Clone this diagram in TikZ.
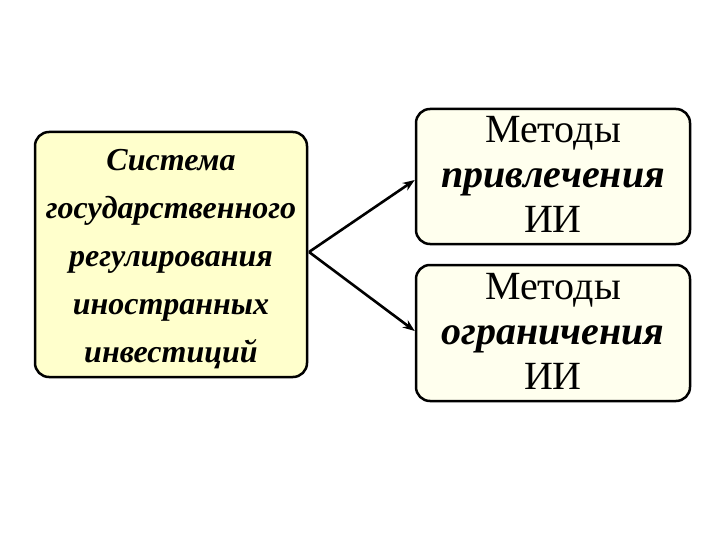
\documentclass[tikz,border=0pt]{standalone}
\usepackage{fontspec}
\setmainfont{Liberation Serif}
\usetikzlibrary{arrows.meta}
\definecolor{leftfill}{HTML}{FFFFCC}
\definecolor{rightfill}{HTML}{FFFFEE}
\tikzset{
  box/.style={draw=black, line width=2.5pt, rounded corners=14pt, inner sep=0pt},
  conn/.style={line width=2.6pt, -{Stealth[length=12pt,width=9pt]}}
}
\begin{document}
\begin{tikzpicture}[x=1pt,y=-1pt]
\useasboundingbox (0,0) rectangle (720,540);
\node[box, fill=leftfill, minimum width=272pt, minimum height=245pt] (sys) at (171,254.5) {};
\node[align=center, font=\fontsize{32}{48}\selectfont\bfseries\itshape] (systxt) at (171,259)
 {Система\\государственного\\регулирования\\иностранных\\инвестиций};
\node[box, fill=rightfill, minimum width=274pt, minimum height=135pt] (m1) at (553,176.5) {};
\node[align=center, font=\fontsize{40}{45}\selectfont] (m1txt) at (553,174)
 {Методы\\\textbf{\textit{привлечения}}\\ИИ};
\node[box, fill=rightfill, minimum width=274pt, minimum height=136pt] (m2) at (553,333) {};
\node[align=center, font=\fontsize{40}{45}\selectfont] (m2txt) at (553,331)
 {Методы\\\textbf{\textit{ограничения}}\\ИИ};
\coordinate (fork) at (309,252);
\draw[conn] (fork) -- (m1.west |- 0,180);
\draw[conn] (fork) -- (m2.west |- 0,331);
\end{tikzpicture}
\end{document}
